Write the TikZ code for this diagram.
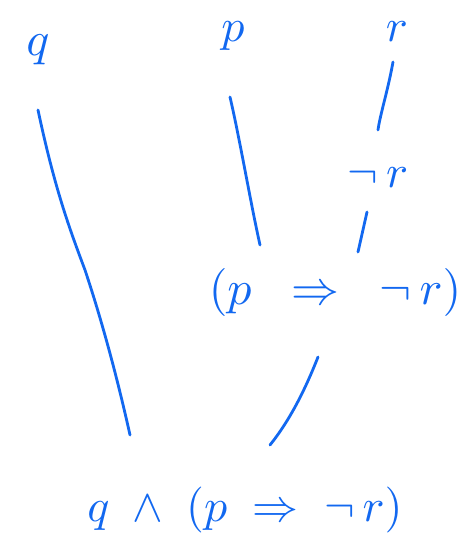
\documentclass[tikz,border=0pt]{standalone}
\usepackage{amsmath}
\usepackage{graphicx}
\definecolor{ink}{RGB}{18,104,240}
\newcommand{\hwtext}[2][4.4]{\scalebox{#1}{$#2$}}
\begin{document}
\begin{tikzpicture}[x=1pt,y=-1pt,
  lbl/.style={text=ink,inner sep=0pt},
  edge/.style={draw=ink,line width=2.8pt,line cap=round,line join=round}]
\useasboundingbox (0,0) rectangle (466,541);
\node[lbl] (q) at (38,50) {\hwtext[4.8]{q}};
\node[lbl] (p) at (233,36) {\hwtext[4.6]{p}};
\node[lbl] (r) at (397,32) {\hwtext[4.6]{r}};
\node[lbl] (nr) at (378,178) {\hwtext[4.6]{\neg\, r}};
\node[lbl] (imp) at (335,292) {\hwtext[4.8]{(p\;\;\Rightarrow\;\;\neg\, r)}};
\node[lbl] (root) at (245,510) {\hwtext[4.6]{q\;\wedge\;(p\;\Rightarrow\;\neg\, r)}};
\coordinate (q1) at (38,110);
\coordinate (q2) at (130,435);
\coordinate (p1) at (230,97);
\coordinate (p2) at (260,245);
\coordinate (r1) at (393,62);
\coordinate (r2) at (378,130);
\coordinate (n1) at (367,212);
\coordinate (n2) at (358,252);
\coordinate (i1) at (318,357);
\coordinate (i2) at (270,445);
\draw[edge] (q1) .. controls (55,190) and (70,230) .. (85,270) .. controls (105,330) and (120,390) .. (q2);
\draw[edge] (p1) .. controls (240,140) and (250,200) .. (p2);
\draw[edge] (r1) .. controls (388,90) and (380,115) .. (r2);
\draw[edge] (n1) -- (n2);
\draw[edge] (i1) .. controls (305,390) and (290,420) .. (i2);
\end{tikzpicture}
\end{document}
